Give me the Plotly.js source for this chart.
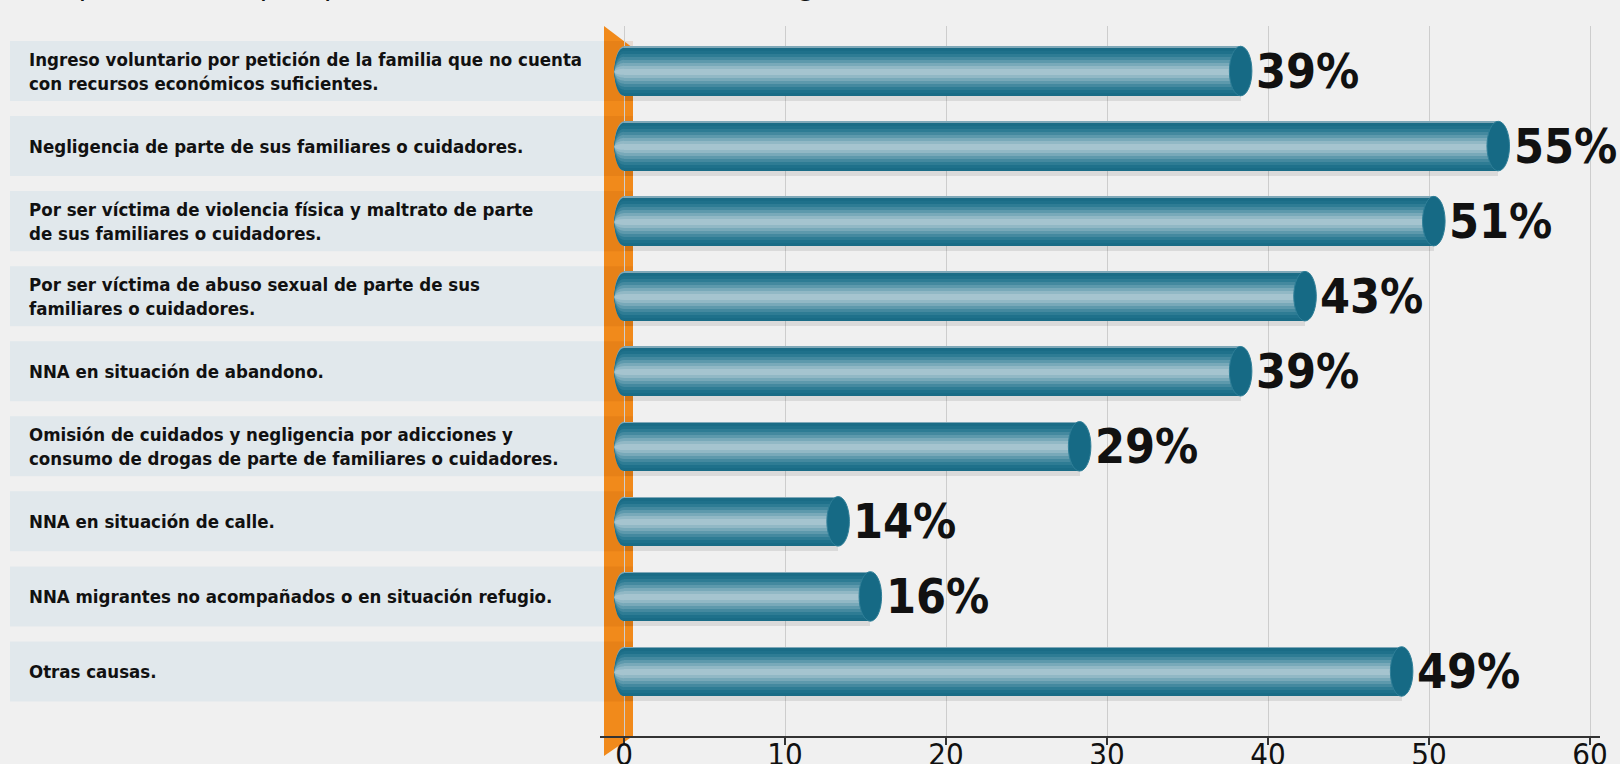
<!DOCTYPE html>
<html>
<head>
<meta charset="utf-8">
<script src="https://cdn.plot.ly/plotly-3.0.1.min.js"></script>
<style>html,body{margin:0;padding:0;background:#f0f0f0;}#chart{width:1620px;height:764px;}</style>
</head>
<body>
<div id="chart"></div>
<script>
const categories = [
  "Ingreso voluntario por petición de la familia que no cuenta<br>con recursos económicos suficientes.",
  "Negligencia de parte de sus familiares o cuidadores.",
  "Por ser víctima de violencia física y maltrato de parte<br>de sus familiares o cuidadores.",
  "Por ser víctima de abuso sexual de parte de sus<br>familiares o cuidadores.",
  "NNA en situación de abandono.",
  "Omisión de cuidados y negligencia por adicciones y<br>consumo de drogas de parte de familiares o cuidadores.",
  "NNA en situación de calle.",
  "NNA migrantes no acompañados o en situación refugio.",
  "Otras causas."
];
const values = [39, 55, 51, 43, 39, 29, 14, 16, 49];
const valueLabels = ["39%", "55%", "51%", "43%", "39%", "29%", "14%", "16%", "49%"];
const tickValues = [0, 10, 20, 30, 40, 50, 60];
const tickLabels = ["0", "10", "20", "30", "40", "50", "60"];
const titleText = "(Respuesta múltiple) por cada una de las causas de ingreso)";

const W = 1620, H = 764, ML = 600, MR = 20, MT = 26, MB = 28;
const plotW = W - ML - MR, plotH = H - MT - MB;
const px2paperX = p => (p - ML) / plotW;
const px2paperY = p => (H - MB - p) / plotH;

const capR = 0.7;           // half-width of the end cap, in x units
// cylinder shading: outer (dark) to inner (light) bands
const layers = [
  {w: 0.66, c: "#7fa8b8"},
  {w: 0.64, c: "#1a6c86"},
  {w: 0.56, c: "#1f718b"},
  {w: 0.48, c: "#2e7c94"},
  {w: 0.40, c: "#44899f"},
  {w: 0.32, c: "#5d99ac"},
  {w: 0.24, c: "#78a9b9"},
  {w: 0.16, c: "#91b8c5"},
  {w: 0.08, c: "#a5c4cf"}
];
const condensed = "'DejaVu Sans Condensed', 'Liberation Sans Narrow', sans-serif";

const barLen = values.map(v => v - capR);
const traces = [];
// soft shadow
traces.push({
  type: "bar", orientation: "h", y: categories, x: barLen,
  width: 0.6, offset: -0.3 + 0.1,
  marker: {color: "rgba(0,0,0,0.09)", line: {width: 0}},
  hoverinfo: "skip", showlegend: false
});
layers.forEach((l, k) => {
  const shift = k === 0 ? 0 : 0.01;
  traces.push({
    type: "bar", orientation: "h", y: categories, x: barLen,
    width: l.w, offset: -l.w / 2 + shift,
    marker: {color: l.c, line: {width: 0}},
    hoverinfo: "skip", showlegend: false
  });
});

const shapes = [];
// label boxes
categories.forEach((c, i) => {
  shapes.push({type: "rect", layer: "below", xref: "paper", yref: "y",
    x0: px2paperX(10), x1: px2paperX(605), y0: i - 0.4, y1: i + 0.4,
    fillcolor: "#e1e8ec", line: {width: 0}});
});
// orange band
const ox0 = px2paperX(604), ox1 = px2paperX(633);
shapes.push({type: "path", layer: "below", xref: "paper", yref: "paper",
  path: `M ${ox0},${px2paperY(26)} L ${ox1},${px2paperY(48)} L ${ox1},${px2paperY(736)} L ${ox0},${px2paperY(756)} Z`,
  fillcolor: "#f18a1b", line: {width: 0}});
categories.forEach((c, i) => {
  shapes.push({type: "rect", layer: "below", xref: "paper", yref: "y",
    x0: ox0, x1: ox1, y0: i - 0.4, y1: i + 0.4,
    fillcolor: "rgba(170,70,0,0.13)", line: {width: 0}});
});
// rounded left ends (below bars)
categories.forEach((c, i) => {
  layers.forEach((l, k) => {
    const shift = k === 0 ? 0 : 0.01;
    shapes.push({type: "circle", layer: "below", xref: "x", yref: "y",
      x0: -capR * 0.85, x1: capR * 0.85, y0: i - l.w / 2 + shift, y1: i + l.w / 2 + shift,
      fillcolor: l.c, line: {width: 0}});
  });
});
// right end caps
values.forEach((v, i) => {
  shapes.push({type: "circle", layer: "above", xref: "x", yref: "y",
    x0: v - 2 * capR, x1: v, y0: i - layers[0].w / 2, y1: i + layers[0].w / 2,
    fillcolor: "#166a85", line: {color: "#2f7f98", width: 1}});
});

const annotations = [];
categories.forEach((c, i) => {
  annotations.push({xref: "paper", yref: "y", x: px2paperX(27), y: i,
    xanchor: "left", yanchor: "middle", align: "left", showarrow: false,
    text: "<b>" + c + "</b>", font: {family: condensed, size: 18.5, color: "#111"}});
});
values.forEach((v, i) => {
  annotations.push({xref: "x", yref: "y", x: v, y: i,
    xanchor: "left", yanchor: "middle", xshift: 2, showarrow: false,
    text: "<b>" + valueLabels[i] + "</b>", font: {family: condensed, size: 48, color: "#111"}});
});
annotations.push({xref: "paper", yref: "paper", x: px2paperX(14), y: px2paperY(4.5),
  xanchor: "left", yanchor: "bottom", showarrow: false,
  text: titleText, font: {family: condensed, size: 32, color: "#111"}});

const layout = {
  width: W, height: H,
  margin: {l: ML, r: MR, t: MT, b: MB, pad: 0},
  paper_bgcolor: "#f0f0f0", plot_bgcolor: "#f0f0f0",
  barmode: "overlay", bargap: 0,
  showlegend: false,
  font: {family: condensed},
  xaxis: {
    range: [-24 / 16.1, 60 + 10 / 16.1],
    tickvals: tickValues, ticktext: tickLabels,
    showgrid: true, gridcolor: "#cdcdcd", gridwidth: 1,
    zeroline: false, showline: true, linecolor: "#333", linewidth: 2,
    ticks: "outside", ticklen: 7, tickcolor: "#333", tickwidth: 2,
    ticklabelstandoff: -17,
    tickfont: {family: condensed, size: 31, color: "#111"}
  },
  yaxis: {
    type: "category", categoryorder: "array", categoryarray: categories,
    range: [8.86, -0.6], showticklabels: false, showgrid: false, zeroline: false,
    showline: false, ticks: ""
  },
  shapes: shapes,
  annotations: annotations
};

Plotly.newPlot("chart", traces, layout, {displayModeBar: false, staticPlot: true});
</script>
</body>
</html>
